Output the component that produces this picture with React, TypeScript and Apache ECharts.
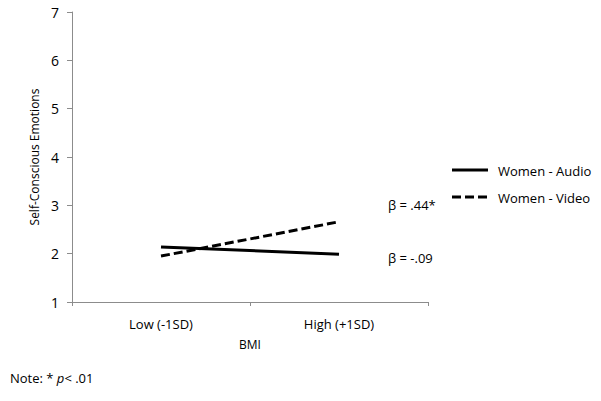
import React, { useEffect, useRef } from "react";
import * as echarts from "echarts";

const categories = ["Low (-1SD)", "High (+1SD)"];
const audio = [2.14, 1.99];
const video = [1.95, 2.66];
const yTicks = [1, 7, 1];
const seriesNames = ["Women - Audio", "Women - Video"];

const FONT = "'Open Sans', 'Noto Sans', sans-serif";

export default function App() {
  const ref = useRef<HTMLDivElement>(null);
  useEffect(() => {
    if (!ref.current) return;
    const chart = echarts.init(ref.current, undefined, { renderer: "svg" });
    chart.setOption({
      animation: false,
      backgroundColor: "#ffffff",
      textStyle: { fontFamily: FONT },
      grid: { left: 72, right: 173, top: 12, bottom: 99 },
      legend: {
        orient: "vertical",
        left: 452,
        top: 159,
        itemWidth: 36,
        itemHeight: 14,
        itemGap: 13,
        icon: "none",
        textStyle: { fontFamily: FONT, fontSize: 13, color: "#000" },
        data: seriesNames,
      },
      xAxis: {
        type: "category",
        data: categories,
        boundaryGap: true,
        name: "BMI",
        nameLocation: "middle",
        nameGap: 36,
        nameTextStyle: { fontFamily: FONT, fontSize: 12, color: "#000" },
        axisLine: { lineStyle: { color: "#8c8c8c", width: 1 } },
        axisTick: { show: true, length: 4, lineStyle: { color: "#8c8c8c" } },
        axisLabel: { fontFamily: FONT, fontSize: 13, color: "#000", margin: 15 },
      },
      yAxis: {
        type: "value",
        min: yTicks[0],
        max: yTicks[1],
        interval: yTicks[2],
        name: "Self-Conscious Emotions",
        nameLocation: "middle",
        nameGap: 26,
        nameTextStyle: { fontFamily: FONT, fontSize: 12, color: "#000" },
        axisLine: { show: true, lineStyle: { color: "#8c8c8c", width: 1 } },
        axisTick: { show: true, length: 5, lineStyle: { color: "#8c8c8c" } },
        splitLine: { show: false },
        axisLabel: { fontFamily: FONT, fontSize: 14, color: "#000", margin: 13 },
      },
      series: [
        {
          name: seriesNames[0],
          type: "line",
          data: audio,
          symbol: "none",
          lineStyle: { color: "#000", width: 3, type: "solid" },
          itemStyle: { color: "#000" },
        },
        {
          name: seriesNames[1],
          type: "line",
          data: video,
          symbol: "none",
          lineStyle: { color: "#000", width: 3, type: [9, 4] },
          itemStyle: { color: "#000" },
        },
      ],
      graphic: [
        {
          type: "line",
          shape: { x1: 452, y1: 170, x2: 488, y2: 170 },
          style: { stroke: "#000", lineWidth: 3 },
        },
        {
          type: "line",
          shape: { x1: 452, y1: 197, x2: 488, y2: 197 },
          style: { stroke: "#000", lineWidth: 3, lineDash: [9, 4] },
        },
        {
          type: "text",
          left: 388,
          top: 198,
          style: { text: "β = .44*", font: `13px ${FONT}`, fill: "#000" },
        },
        {
          type: "text",
          left: 388,
          top: 251,
          style: { text: "β = -.09", font: `13px ${FONT}`, fill: "#000" },
        },
        {
          type: "text",
          left: 10,
          top: 371,
          style: {
            rich: {
              n: { fontFamily: FONT, fontSize: 13, fill: "#000" },
              i: { fontFamily: FONT, fontSize: 13, fontStyle: "italic", fill: "#000" },
            },
            text: "{n|Note: * }{i|p}{n|< .01}",
          },
        },
      ],
    });
    return () => chart.dispose();
  }, []);
  return <div ref={ref} style={{ width: 601, height: 401, position: "absolute", left: 0, top: 0 }} />;
}
